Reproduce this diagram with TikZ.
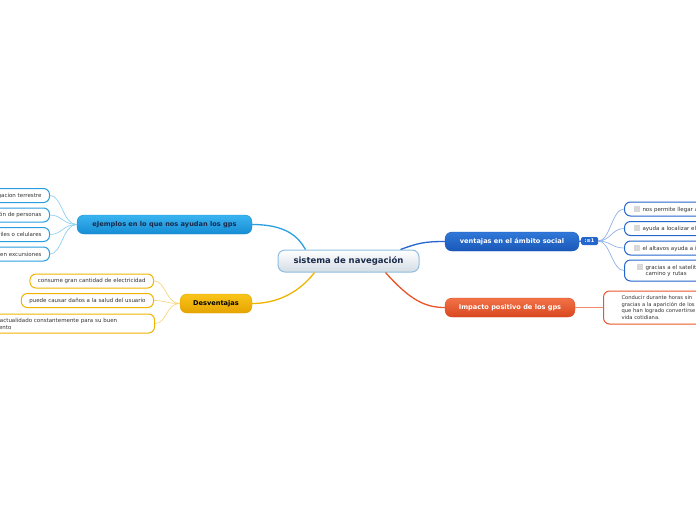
\documentclass[tikz,border=0pt]{standalone}
\usepackage{fontspec}
\setmainfont{DejaVu Sans}
\usepackage{xcolor}
\usetikzlibrary{arrows.meta,positioning,calc}
\definecolor{cenline}{HTML}{8FBFE0}
\definecolor{cengray}{HTML}{D3DCE5}
\definecolor{navy}{HTML}{1A2A4A}
\definecolor{ejtop}{HTML}{3AB4F0}
\definecolor{ejbot}{HTML}{168CD4}
\definecolor{ejline}{HTML}{2A9FE0}
\definecolor{ejsoft}{HTML}{8FD0F2}
\definecolor{detop}{HTML}{F9C51A}
\definecolor{debot}{HTML}{E6A300}
\definecolor{deline}{HTML}{F0B400}
\definecolor{desoft}{HTML}{F7D680}
\definecolor{vetop}{HTML}{3078D8}
\definecolor{vebot}{HTML}{1A58B8}
\definecolor{veline}{HTML}{2466CC}
\definecolor{vesoft}{HTML}{8FB0E8}
\definecolor{imtop}{HTML}{F27248}
\definecolor{imbot}{HTML}{D9481F}
\definecolor{imline}{HTML}{E8562A}
\definecolor{chk}{HTML}{D8D8D8}
\tikzset{
  centre/.style={draw=cenline, line width=1pt, rounded corners=7pt, top color=white,
                 bottom color=cengray, minimum width=141pt, minimum height=22pt,
                 inner sep=0pt, text=navy, font=\fontsize{8.5}{10}\selectfont\bfseries},
  topic/.style={rounded corners=7pt, minimum height=19pt, inner sep=0pt,
                font=\fontsize{6.6}{8}\selectfont\bfseries},
  ejtopic/.style={topic, draw=ejbot, top color=ejtop, bottom color=ejbot, text=navy},
  detopic/.style={topic, draw=debot, top color=detop, bottom color=debot, text=black},
  vetopic/.style={topic, draw=vebot, top color=vetop, bottom color=vebot, text=white},
  imtopic/.style={topic, draw=imbot, top color=imtop, bottom color=imbot, text=white},
  leaf/.style={draw, fill=white, line width=1pt, rounded corners=6pt, minimum height=14pt,
               inner xsep=8pt, inner ysep=0pt, text=black!80, font=\fontsize{5.5}{7}\selectfont},
  vleaf/.style={leaf, draw=veline, anchor=west, text width=90pt, align=left, inner xsep=9pt},
  badge/.style={fill=veline, rounded corners=1.5pt, minimum width=17pt, minimum height=8pt,
                inner sep=0pt, text=white, font=\fontsize{5}{5}\selectfont\bfseries},
  branch/.style={line width=1.3pt},
  twig/.style={line width=0.7pt},
}
\newcommand{\chkbox}{\textcolor{chk}{\rule[-0.5pt]{6pt}{6pt}}\hspace{3pt}}
\begin{document}
\begin{tikzpicture}[x=1pt,y=-1pt]
  \useasboundingbox (0,0) rectangle (696,520);
  \node[centre] (sis) at (348.5,261) {sistema de navegación};
  \node[ejtopic, minimum width=175pt] (ejem) at (164.5,224.5) {eJemplos en lo que nos ayudan los gps};
  \node[detopic, minimum width=72pt] (desv) at (216,303.5) {Desventajas};
  \node[vetopic, minimum width=134pt] (vent) at (512,241.5) {ventajas en el ámbito social};
  \node[imtopic, minimum width=130pt] (imp) at (510,307.5) {Impacto positivo de los gps};
  \node[badge] (cnt) at (589.5,241) {:≡1};

  \node[leaf, draw=ejline, anchor=east] (ej1) at (50,195.5) {navegacion terrestre};
  \node[leaf, draw=ejline, anchor=east] (ej2) at (50,215) {localización de personas};
  \node[leaf, draw=ejline, anchor=east] (ej3) at (50,234.5) {moviles o celulares};
  \node[leaf, draw=ejline, anchor=east] (ej4) at (50,254) {orientación en excursiones};

  \node[leaf, draw=deline, anchor=east] (de1) at (154,281) {consume gran cantidad de electricidad};
  \node[leaf, draw=deline, anchor=east] (de2) at (154,300.5) {puede causar daños a la salud del usuario};
  \node[leaf, draw=deline, anchor=west, minimum height=19pt, text width=178pt, align=left]
    (de3) at (-40,323.5) {debe estar actualidado constantemente para su buen\\funcionamiento};

  \node[vleaf] (ve1) at (624,209) {\chkbox nos permite llegar a};
  \node[vleaf] (ve2) at (624,228.5) {\chkbox ayuda a localizar el};
  \node[vleaf] (ve3) at (624,248) {\chkbox el altavos ayuda a i};
  \node[vleaf, minimum height=21pt, inner xsep=12pt] (ve4) at (624,270.5)
    {\chkbox\raisebox{-3.5pt}{\begin{tabular}{@{}l@{}}gracias a el satelite\\[-1.5pt]camino y rutas\end{tabular}}};

  \node[leaf, draw=imline, anchor=west, minimum height=33pt, text width=110pt, align=left,
        inner xsep=18pt, font=\fontsize{5.2}{6.8}\selectfont] (im1) at (603,307.5)
    {Conducir durante horas sin\\gracias a la aparición de los\\que han logrado convertirse\\vida cotidiana.};

  \draw[branch, ejline] (ejem.east) .. controls (285,224.5) and (298,236) .. ($(sis.north)+(-43,0)$);
  \draw[branch, deline] (desv.east) .. controls (285,303.5) and (305,285) .. ($(sis.south)+(-34,0)$);
  \draw[branch, veline] ($(sis.north)+(52,0)$) .. controls (418,243) and (425,241.5) .. (vent.west);
  \draw[branch, imline] ($(sis.south)+(37,0)$) .. controls (410,300) and (425,307.5) .. (imp.west);
  \draw[branch, veline] (vent.east) -- (cnt.west);
  \draw[branch, imline!70] (imp.east) -- (im1.west);

  \foreach \k in {1,...,4}
    \draw[twig, ejsoft] (ejem.west) .. controls +(-14,0) and +(12,0) .. (ej\k.east);
  \foreach \k in {1,2,3}
    \draw[twig, desoft] (desv.west) .. controls +(-14,0) and +(12,0) .. (de\k.east);
  \foreach \k in {1,...,4}
    \draw[twig, vesoft] (cnt.east) .. controls +(12,0) and +(-12,0) .. (ve\k.west);
\end{tikzpicture}
\end{document}
